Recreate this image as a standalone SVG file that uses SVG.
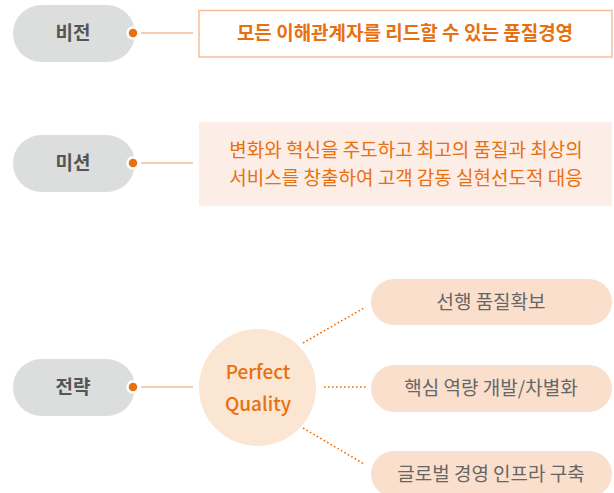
<svg xmlns="http://www.w3.org/2000/svg" width="614" height="493" viewBox="0 0 614 493">
<style>
.lp{fill:#DCDDDD}
.lt{font-family:"Noto Sans CJK KR","Noto Sans",sans-serif;font-size:19px;font-weight:700;fill:#555555;text-anchor:middle}
.dot{fill:#E8700F;stroke:#FFFFFF;stroke-width:2.5}
.ln{stroke:#EE9A62;stroke-width:1.2;fill:none}
.dl{stroke:#E8700F;stroke-width:1.6;stroke-dasharray:1.6 2.4;fill:none}
.ot{font-family:"Noto Sans CJK KR","Noto Sans",sans-serif;font-size:19px;fill:#E8700F;text-anchor:middle}
.rp{fill:#FADFCC}
.rt{font-family:"Noto Sans CJK KR","Noto Sans",sans-serif;font-size:19px;fill:#666666;text-anchor:middle}
</style>
<g id="connectors">
<line class="ln" x1="141" y1="33" x2="193" y2="33"/>
<line class="ln" x1="141" y1="163" x2="193" y2="163"/>
<line class="ln" x1="141" y1="387" x2="193" y2="387"/>
<line class="dl" x1="303" y1="343" x2="364" y2="308"/>
<line class="dl" x1="324" y1="387" x2="366" y2="387"/>
<line class="dl" x1="303" y1="428" x2="364" y2="464"/>
</g>
<g id="vision-label">
<rect class="lp" x="13" y="5" width="122" height="57" rx="28.5"/>
<text class="lt" x="73" y="40">비전</text>
<circle class="dot" cx="133" cy="33" r="5.5"/>
</g>
<g id="vision-box">
<rect x="199" y="10.5" width="413" height="46.5" fill="#FFFFFF" stroke="#F8BE98" stroke-width="1.5"/>
<text class="ot" x="405" y="40" font-weight="700">모든 이해관계자를 리드할 수 있는 품질경영</text>
</g>
<g id="mission-label">
<rect class="lp" x="13" y="135" width="122" height="57" rx="28.5"/>
<text class="lt" x="73" y="170">미션</text>
<circle class="dot" cx="133" cy="163" r="5.5"/>
</g>
<g id="mission-box">
<rect x="199" y="122" width="413" height="84" fill="#FCEDE6"/>
<text class="ot" x="406" y="157">변화와 혁신을 주도하고 최고의 품질과 최상의</text>
<text class="ot" x="406" y="185">서비스를 창출하여 고객 감동 실현선도적 대응</text>
</g>
<g id="strategy-label">
<rect class="lp" x="13" y="359" width="122" height="57" rx="28.5"/>
<text class="lt" x="73" y="394">전략</text>
<circle class="dot" cx="133" cy="387" r="5.5"/>
</g>
<g id="perfect-quality">
<circle cx="257.5" cy="387.5" r="58.5" fill="#FBE5D3"/>
<text class="ot" x="258" y="379" font-size="20.5" font-weight="500">Perfect</text>
<text class="ot" x="258" y="411" font-size="20.5" font-weight="500">Quality</text>
</g>
<g id="strategy-1">
<rect class="rp" x="371" y="279" width="241" height="46" rx="23"/>
<text class="rt" x="491" y="309">선행 품질확보</text>
</g>
<g id="strategy-2">
<rect class="rp" x="371" y="365" width="241" height="47" rx="23.5"/>
<text class="rt" x="491" y="395">핵심 역량 개발/차별화</text>
</g>
<g id="strategy-3">
<rect class="rp" x="371" y="451" width="241" height="46" rx="23"/>
<text class="rt" x="491" y="481">글로벌 경영 인프라 구축</text>
</g>
</svg>
